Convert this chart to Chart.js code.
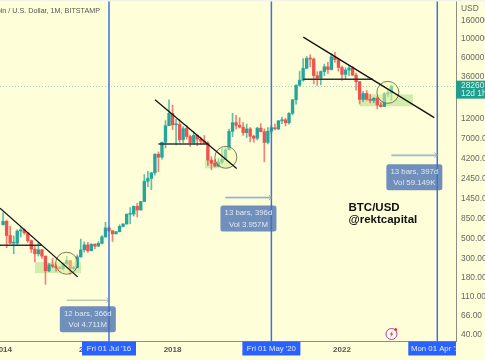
<!DOCTYPE html>
<html>
<head>
<meta charset="utf-8">
<style>
  html, body { margin: 0; padding: 0; background: #feffd8; }
  canvas { display: block; filter: blur(0.4px); }
</style>
<script src="https://cdn.jsdelivr.net/npm/chart.js@4/dist/chart.umd.min.js"></script>
</head>
<body>
<canvas id="btcChart" width="485" height="360"></canvas>
<script>
// Monthly candles, index 0 = Jan 2014
const opens = [
  731,800,550,450,450,620,640,590,480,385,340,378,
  320,217,254,244,236,230,263,284,230,236,314,377,
  430,368,437,416,448,531,673,624,575,609,700,745,
  966,970,1190,1080,1350,2300,2480,2875,4700,4340,6440,9950,
  13800,10200,10300,6900,9240,7490,6390,7730,7000,6620,6300,4020,
  3700,3430,3820,4100,5270,8570,10800,10080,9600,8300,9150,7550,
  7170,9350,8520,6410,8620,9450,9140,11340,11650,10780,13800,19700,
  29000,33100,45200,58800,57700,37300,35000,41500,47100,43800,61300,56900,
  46200,38500,43200,45500,37700,31800,19900,23300,20000,19400,20500,17200,
  16500,23100,23500
];
const closes = [
  800,550,450,450,620,640,590,480,385,340,378,320,
  217,254,244,236,230,263,284,230,236,314,377,430,
  368,437,416,448,531,673,624,575,609,700,745,966,
  970,1190,1080,1350,2300,2480,2875,4700,4340,6440,9950,13800,
  10200,10300,6900,9240,7490,6390,7730,7000,6620,6300,4020,3700,
  3430,3820,4100,5270,8570,10800,10080,9600,8300,9150,7550,7170,
  9350,8520,6410,8620,9450,9140,11340,11650,10780,13800,19700,29000,
  33100,45200,58800,57700,37300,35000,41500,47100,43800,61300,56900,46200,
  38500,43200,45500,37700,31800,19900,23300,20000,19400,20500,17200,16500,
  23100,23500,28260
];
const highs = [
  1000,830,700,545,640,680,660,600,490,415,460,380,
  320,265,300,261,245,268,318,284,245,330,500,465,
  460,445,445,470,550,780,690,625,610,730,755,975,
  1150,1200,1290,1350,2750,2990,2915,4750,4980,6450,11400,19666,
  17200,11800,11700,9760,10000,7780,8450,7880,7400,7700,6550,4400,
  4070,4200,5480,5600,9100,13800,13100,12300,10900,10370,9500,7750,
  9570,10500,9180,9460,10070,10370,11400,12470,12070,14100,19900,29300,
  41900,58300,61700,64900,59500,41300,42300,50500,52900,67000,69000,59000,
  47900,45800,48200,47400,40000,31900,24600,25200,22800,21000,21500,18400,
  23900,25200,29200
];
const lows = [
  730,400,440,340,420,530,570,460,350,275,320,300,
  152,212,235,215,228,222,255,198,225,235,310,355,
  352,368,388,412,442,525,605,470,575,604,690,745,
  750,920,900,1070,1350,2000,1840,2700,2950,4120,5550,10800,
  9000,6000,6430,6430,7000,5750,6100,5900,6100,6200,3500,3120,
  3350,3390,3680,4100,5350,7450,9100,9350,7700,7300,6500,6430,
  6850,8450,3850,6150,8100,8900,9000,10520,9900,10380,13200,17600,
  28100,32300,44900,47000,30000,28800,29300,37300,39600,43200,53300,42000,
  32900,34300,37200,37600,25400,17600,18800,19500,18200,18200,15500,16300,
  16500,21400,19500
];

const yTicks = [160000,100000,60000,36000,12000,7000,4200,2450,1450,850,500,300,180,110,66,40];
const xTickMonths = [0,24,48,72,96,120];
const xTickLabels = ['2014','2016','2018','2020','2022','2024'];
const lastPrice = 28260;

// Drawn trend lines, [month, price] pairs
const downTrends = [
  [[-0.88,1130],[21.13,185]],
  [[43.03,19800],[66.17,3213]],
  [[85.04,103000],[122.15,12330]]
];
const necklines = [
  [[-0.88,427],[10.9,427]],
  [[44,6150],[58.1,6150]],
  [[85,33800],[104.8,33800]]
];
const breakoutMonths = [18,63.1,109];
const breakoutPrices = [265,4330,24000];
const accumMonths = [[9.04,22.07],[57.2,64.3],[101.1,116.1]];
const accumPrices = [[204,272],[3240,4000],[16600,22760]];

// Bars-pattern measurements
const cycleMonths = [30,76,123];
const cycleLabels = ["Fri 01 Jul '16","Fri 01 May '20","Mon 01 Apr '24"];
const measureFrom = [18,63,110];
const measurePrices = [100,1496,4570];
const measureText = [
  ['12 bars, 366d','Vol 4.711M'],
  ['13 bars, 396d','Vol 3.957M'],
  ['13 bars, 397d','Vol 59.149K']
];

const UP = '#26a69a', DOWN = '#ef5350', BG = '#feffd8', FONT = '"Liberation Sans", Arial, sans-serif';
const yMin = 34.1, yMax = 274000;
const months = opens.map((v, i) => i);
const candleColors = opens.map((o, i) => closes[i] >= o ? UP : DOWN);
const toPoints = line => line.map(p => ({ x: p[0], y: p[1] }));

function lineSet(line, color, width) {
  return { type: 'line', data: toPoints(line), borderColor: color, borderWidth: width, pointRadius: 0, tension: 0 };
}

function roundBox(ctx, x, y, w, h, r) {
  ctx.beginPath();
  ctx.roundRect(x, y, w, h, r);
  ctx.fill();
}

// Things TradingView draws that aren't series: panels, tags, labels
const overlay = {
  id: 'overlay',
  beforeDraw(chart) {
    const ctx = chart.ctx;
    ctx.save();
    ctx.fillStyle = BG;
    ctx.fillRect(0, 0, 485, 360);
    ctx.restore();
  },
  beforeDatasetsDraw(chart) {
    const { ctx, scales: { x, y } } = chart;
    ctx.save();
    ctx.fillStyle = 'rgba(130,200,90,0.35)';
    accumMonths.forEach((m, i) => {
      const left = x.getPixelForValue(m[0]);
      const top = y.getPixelForValue(accumPrices[i][1]);
      ctx.fillRect(left, top, x.getPixelForValue(m[1]) - left, y.getPixelForValue(accumPrices[i][0]) - top);
    });
    // dotted last price line
    const py = Math.round(y.getPixelForValue(lastPrice)) + 0.5;
    ctx.strokeStyle = 'rgba(38,166,154,0.45)';
    ctx.setLineDash([1, 2]);
    ctx.beginPath();
    ctx.moveTo(0, py);
    ctx.lineTo(456, py);
    ctx.stroke();
    ctx.restore();
  },
  afterDraw(chart) {
    const { ctx, scales: { x, y } } = chart;
    ctx.save();
    ctx.textBaseline = 'middle';

    // strip above the chart
    ctx.fillStyle = '#f3f3ee';
    ctx.fillRect(0, 0, 485, 1.5);

    // legend line, clipped on the left like the screenshot
    ctx.fillStyle = '#555';
    ctx.font = '7.2px ' + FONT;
    ctx.textAlign = 'right';
    ctx.fillText('Bitcoin / U.S. Dollar, 1M, BITSTAMP', 100, 11.5);

    ctx.fillStyle = '#666';
    ctx.font = '8.4px ' + FONT;
    ctx.textAlign = 'left';
    ctx.fillText('USD', 461, 9);

    // measure arrows + boxes
    const boxGaps = [6, 8, 9];
    cycleMonths.forEach((end, i) => {
      const x0 = x.getPixelForValue(measureFrom[i]);
      const x1 = x.getPixelForValue(end);
      const py = y.getPixelForValue(measurePrices[i]);
      if (i > 0) {
        ctx.fillStyle = 'rgba(190,215,225,0.6)';
        ctx.fillRect(x0, py - 1.5, x1 - x0, 3);
      }
      ctx.strokeStyle = '#8f9a95';
      ctx.lineWidth = 0.8;
      ctx.beginPath();
      ctx.moveTo(x0, py);
      ctx.lineTo(x1, py);
      ctx.moveTo(x1 - 2.5, py - 2.5);
      ctx.lineTo(x1, py);
      ctx.lineTo(x1 - 2.5, py + 2.5);
      ctx.stroke();

      const mid = (x0 + x1) / 2;
      const top = py + boxGaps[i];
      ctx.fillStyle = 'rgba(72,112,178,0.78)';
      roundBox(ctx, mid - 28, top, 56, 26, 2.5);
      ctx.fillStyle = '#dfe8f4';
      ctx.font = '7.8px ' + FONT;
      ctx.textAlign = 'center';
      ctx.fillText(measureText[i][0], mid, top + 7.5);
      ctx.fillText(measureText[i][1], mid, top + 19);
    });

    // blue date tags on the time axis, last one is cut at the price axis
    const tagWidths = [54, 58, 58];
    cycleMonths.forEach((m, i) => {
      const cx = x.getPixelForValue(m);
      ctx.save();
      ctx.beginPath();
      ctx.rect(0, 341, 456, 15);
      ctx.clip();
      ctx.fillStyle = '#2962ff';
      ctx.fillRect(cx - tagWidths[i] / 2, 341.5, tagWidths[i], 14);
      ctx.fillStyle = '#e4ebff';
      ctx.font = '7.8px ' + FONT;
      ctx.textAlign = 'center';
      ctx.fillText(cycleLabels[i], cx, 349);
      ctx.restore();
    });

    // last price tag
    const tagY = y.getPixelForValue(lastPrice);
    ctx.fillStyle = '#1f9e8e';
    ctx.fillRect(456, tagY - 5.5, 29, 18);
    ctx.fillStyle = '#d9f2ee';
    ctx.font = '8.4px ' + FONT;
    ctx.textAlign = 'left';
    ctx.fillText('28260.00', 461, tagY - 0.5);
    ctx.fillText('12d 1h', 461, tagY + 8);

    // author note
    ctx.fillStyle = '#111';
    ctx.font = 'bold 11.5px ' + FONT;
    ctx.fillText('BTC/USD', 348.5, 208);
    ctx.fillText('@rektcapital', 348.5, 219.5);

    // little purple bolt badge
    ctx.strokeStyle = '#a93fc0';
    ctx.lineWidth = 1;
    ctx.beginPath();
    ctx.arc(391.5, 334, 5.5, 0, Math.PI * 2);
    ctx.stroke();
    ctx.fillStyle = '#a93fc0';
    ctx.beginPath();
    ctx.moveTo(393, 330.5);
    ctx.lineTo(389.5, 334.5);
    ctx.lineTo(391.5, 334.5);
    ctx.lineTo(390, 337.5);
    ctx.lineTo(393.5, 333.5);
    ctx.lineTo(391.5, 333.5);
    ctx.closePath();
    ctx.fill();
    ctx.fillStyle = '#f0304a';
    ctx.beginPath();
    ctx.arc(395.7, 329.5, 1.5, 0, Math.PI * 2);
    ctx.fill();

    ctx.restore();
  }
};

new Chart(document.getElementById('btcChart').getContext('2d'), {
  type: 'bar',
  plugins: [overlay],
  data: {
    datasets: [
      ...downTrends.map(l => lineSet(l, '#111', 1.3)),
      ...necklines.map(l => lineSet(l, '#333', 1.5)),
      {
        type: 'line',
        data: breakoutMonths.map((m, i) => ({ x: m, y: breakoutPrices[i] })),
        showLine: false,
        pointRadius: 11,
        pointBorderColor: '#5a5a50',
        pointBorderWidth: 0.8,
        pointBackgroundColor: 'rgba(255,255,170,0.45)'
      },
      ...cycleMonths.map(m => lineSet([[m, yMin], [m, yMax]], '#3f6fe8', 1.5)),
      {
        label: 'body',
        data: months.map(i => ({ x: i, y: [Math.min(opens[i], closes[i]), Math.max(opens[i], closes[i])] })),
        backgroundColor: candleColors,
        barThickness: 2.7,
        grouped: false,
        minBarLength: 1
      },
      {
        label: 'wick',
        data: months.map(i => ({ x: i, y: [lows[i], highs[i]] })),
        backgroundColor: candleColors.map(c => c + 'bb'),
        barThickness: 1,
        grouped: false
      }
    ]
  },
  options: {
    responsive: false,
    animation: false,
    layout: { padding: 0, autoPadding: false },
    plugins: { legend: { display: false }, tooltip: { enabled: false } },
    scales: {
      x: {
        type: 'linear',
        offset: false,
        min: -0.88,
        max: 128.3,
        grid: { display: false, drawTicks: false },
        border: { color: '#8e8e86', width: 1 },
        ticks: {
          autoSkip: false,
          maxRotation: 0,
          padding: 4,
          color: '#555',
          font: { family: FONT, size: 8, weight: 'bold' },
          callback: v => xTickLabels[xTickMonths.indexOf(v)]
        },
        afterBuildTicks: s => { s.ticks = xTickMonths.map(v => ({ value: v })); },
        afterFit: s => { s.height = 19; s.paddingLeft = 0; s.paddingRight = 0; }
      },
      y: {
        type: 'logarithmic',
        position: 'right',
        min: yMin,
        max: yMax,
        grid: { display: false, drawTicks: false },
        border: { color: '#8e8e86', width: 1 },
        ticks: {
          autoSkip: false,
          padding: 5,
          color: '#666',
          font: { family: FONT, size: 8.4 },
          callback: v => v.toFixed(2)
        },
        afterBuildTicks: s => { s.ticks = yTicks.map(v => ({ value: v })); },
        afterFit: s => { s.width = 29; s.paddingTop = 0; s.paddingBottom = 0; }
      }
    }
  }
});
</script>
</body>
</html>
